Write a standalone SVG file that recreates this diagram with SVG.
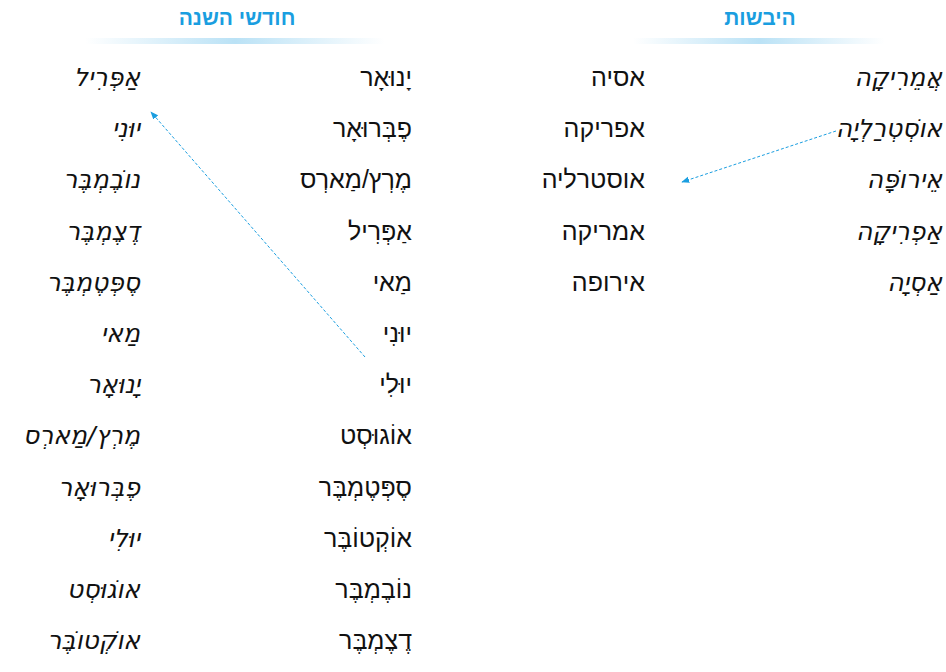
<svg xmlns="http://www.w3.org/2000/svg" width="946" height="672" viewBox="0 0 946 672">
<style>
.h{font-family:"Liberation Sans","Noto Sans",sans-serif;font-weight:bold;font-size:21px;fill:#1a9ee0;text-anchor:middle}
.p{font-family:"Liberation Sans","DejaVu Sans",sans-serif;font-size:25px;fill:#111;text-anchor:start}
.c{font-family:"DejaVu Sans","Liberation Sans",sans-serif;font-style:italic;font-size:25px;fill:#111;text-anchor:start}
.a{stroke:#1a9ee0;stroke-width:1;stroke-dasharray:3 2;fill:none}
</style>
<defs>
<linearGradient id="g" x1="0" x2="1"><stop offset="0" stop-color="#1a9ee0" stop-opacity="0"/><stop offset="0.5" stop-color="#1a9ee0" stop-opacity="0.3"/><stop offset="1" stop-color="#1a9ee0" stop-opacity="0"/></linearGradient>
<marker id="m" viewBox="0 0 10 10" refX="9" refY="5" markerWidth="8" markerHeight="8" orient="auto"><path d="M0,1 L10,5 L0,9 Z" fill="#1a9ee0"/></marker>
</defs>
<g id="header-months"><text class="h" x="237" y="25" direction="rtl">חודשי השנה</text><rect x="85" y="38" width="300" height="6" fill="url(#g)"/></g>
<g id="header-continents"><text class="h" x="760" y="25" direction="rtl">היבשות</text><rect x="633" y="38" width="252" height="6" fill="url(#g)"/></g>
<g id="months-printed" direction="rtl">
<text class="p" x="412" y="86">יָנוּאָר</text>
<text class="p" x="412" y="137">פֶבְּרוּאָר</text>
<text class="p" x="412" y="188">מֶרְץ/מַארְס</text>
<text class="p" x="412" y="240">אַפְּרִיל</text>
<text class="p" x="412" y="291">מַאי</text>
<text class="p" x="412" y="342">יוּנִי</text>
<text class="p" x="412" y="393">יוּלִי</text>
<text class="p" x="412" y="444">אוֹגוּסְט</text>
<text class="p" x="412" y="496">סֶפְּטֶמְבֶּר</text>
<text class="p" x="412" y="547">אוֹקְטוֹבֶּר</text>
<text class="p" x="412" y="598">נוֹבֶמְבֶּר</text>
<text class="p" x="412" y="649">דֶצֶמְבֶּר</text>
</g>
<g id="months-cursive" direction="rtl">
<text class="c" x="140" y="86">אַפְּרִיל</text>
<text class="c" x="140" y="137">יוּנִי</text>
<text class="c" x="140" y="188">נוֹבֶמְבֶּר</text>
<text class="c" x="140" y="240">דֶצֶמְבֶּר</text>
<text class="c" x="140" y="291">סֶפְּטֶמְבֶּר</text>
<text class="c" x="140" y="342">מַאי</text>
<text class="c" x="140" y="393">יָנוּאָר</text>
<text class="c" x="140" y="444">מֶרְץ/מַארְס</text>
<text class="c" x="140" y="496">פֶבְּרוּאָר</text>
<text class="c" x="140" y="547">יוּלִי</text>
<text class="c" x="140" y="598">אוֹגוּסְט</text>
<text class="c" x="140" y="649">אוֹקְטוֹבֶּר</text>
</g>
<g id="continents-printed" direction="rtl">
<text class="p" x="645" y="86">אסיה</text>
<text class="p" x="645" y="137">אפריקה</text>
<text class="p" x="645" y="188">אוסטרליה</text>
<text class="p" x="645" y="240">אמריקה</text>
<text class="p" x="645" y="291">אירופה</text>
</g>
<g id="continents-cursive" direction="rtl">
<text class="c" x="942" y="86">אֲמֵרִיקָה</text>
<text class="c" x="942" y="137">אוֹסְטְרַלְיָה</text>
<text class="c" x="942" y="188">אֵירוֹפָּה</text>
<text class="c" x="942" y="240">אַפְרִיקָה</text>
<text class="c" x="942" y="291">אַסְיָה</text>
</g>
<g id="connectors">
<line class="a" x1="365" y1="357" x2="151" y2="112" marker-end="url(#m)"/>
<line class="a" x1="836" y1="131" x2="682" y2="182" marker-end="url(#m)"/>
</g>
</svg>
